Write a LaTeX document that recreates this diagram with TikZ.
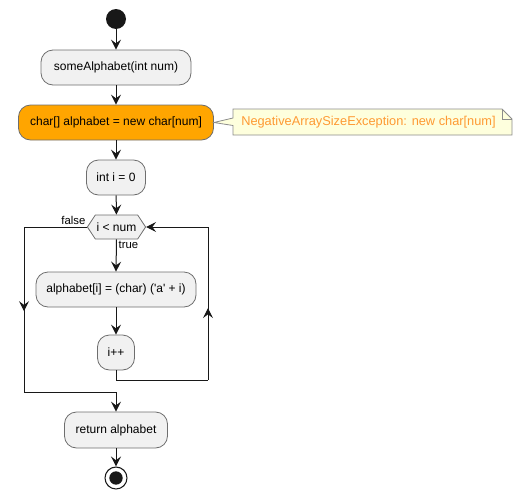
\documentclass[tikz,border=0pt]{standalone}
\usepackage{fontspec}
\setmainfont{Liberation Sans}[Ligatures=TeXOff]
\usetikzlibrary{arrows.meta,shapes.symbols,decorations.markings}
\definecolor{boxfill}{HTML}{F1F1F1}
\definecolor{boxline}{HTML}{6E6E6E}
\definecolor{lineC}{HTML}{181818}
\definecolor{orangeC}{HTML}{FFA500}
\definecolor{notefill}{HTML}{FEFFDD}
\definecolor{noteline}{HTML}{8C8C8C}
\definecolor{notetext}{HTML}{FF9A33}
\tikzset{
  box/.style={draw=boxline, fill=boxfill, rounded corners=9pt, line width=0.6pt,
    minimum height=26.25pt, inner sep=2pt, font=\fontsize{9}{11}\selectfont},
  tipA/.tip={Stealth[length=7.5pt,width=7.5pt,inset=2.8pt]},
  lineS/.style={draw=lineC, line width=0.75pt},
  flow/.style={lineS, -tipA},
  midarrow/.style={postaction={decorate}, decoration={markings,
    mark=at position #1 with {\arrow{tipA}}}},
  lbl/.style={font=\fontsize{8.5}{10}\selectfont, inner sep=1pt}
}
\begin{document}
\begin{tikzpicture}[x=0.75pt,y=-0.75pt]
\useasboundingbox (0,0) rectangle (522,500);
% start
\node[circle, fill=lineC, minimum size=15pt, inner sep=0] (start) at (116,19) {};
% boxes
\node[box, minimum width=112.5pt] (s1) at (116,67.5) {someAlphabet(int num)};
\node[box, fill=orangeC, minimum width=146.25pt] (s2) at (116,122.5) {char[] alphabet = new char[num]};
\node[box, minimum width=44.25pt] (s3) at (116,177.5) {int i = 0};
\node[signal, signal to=west and east, signal pointer angle=113, draw=boxline, fill=boxfill,
  line width=0.6pt, minimum width=42.75pt, minimum height=18pt, inner sep=1pt,
  font=\fontsize{9}{11}\selectfont] (dec) at (116.5,227) {i < num};
\node[box, minimum width=120pt] (s4) at (116,289.5) {alphabet[i] = (char) ('a' + i)};
\node[box, minimum width=27.75pt] (s5) at (116,352.5) {i++};
\node[box, minimum width=77.25pt, minimum height=27pt] (s6) at (116,430) {return alphabet};
% end
\node[circle, draw=lineC, line width=0.8pt, fill=white, minimum size=16.5pt, inner sep=0] (stop) at (116,478) {};
\node[circle, fill=lineC, minimum size=10pt, inner sep=0] (stopin) at (stop) {};
% note
\draw[draw=noteline, fill=notefill, line width=0.6pt]
  (233,109) -- (502,109) -- (512,119) -- (512,135) -- (233,135) -- (233,125.5)
  -- (s2.east) -- (233,118) -- cycle;
\draw[draw=noteline, line width=0.6pt] (502,109) -- (502,119) -- (512,119);
\node[text=notetext, font=\fontsize{9.6}{11}\selectfont, inner sep=0] (note) at (368.5,122.5)
  {NegativeArraySizeException: new char[num]};
% flow
\draw[flow] (start) -- (s1);
\draw[flow] (s1) -- (s2);
\draw[flow] (s2) -- (s3);
\draw[flow] (s3) -- (dec);
\draw[flow] (dec.south) -- (s4.north);
\draw[flow] (s4) -- (s5);
\node[lbl, anchor=north west] (tl) at (117,240) {true};
\node[lbl, anchor=south east] (fl) at (87,226) {false};
% loop back
\coordinate (lb1) at (116,380);
\coordinate (lb2) at (208,380);
\coordinate (lt) at (208,227);
\draw[lineS] (s5.south) -- (lb1) -- (lb2);
\draw[lineS, midarrow=0.47] (lb2) -- (lt);
\draw[flow] (lt) -- (dec.east);
% false path
\coordinate (fa) at (24,227);
\coordinate (fb) at (24,392);
\coordinate (fc) at (116,392);
\draw[lineS] (dec.west) -- (fa);
\draw[lineS, midarrow=0.51] (fa) -- (fb);
\draw[flow] (fb) -- (fc) -- (s6.north);
\draw[flow] (s6) -- (stop);
\end{tikzpicture}
\end{document}
